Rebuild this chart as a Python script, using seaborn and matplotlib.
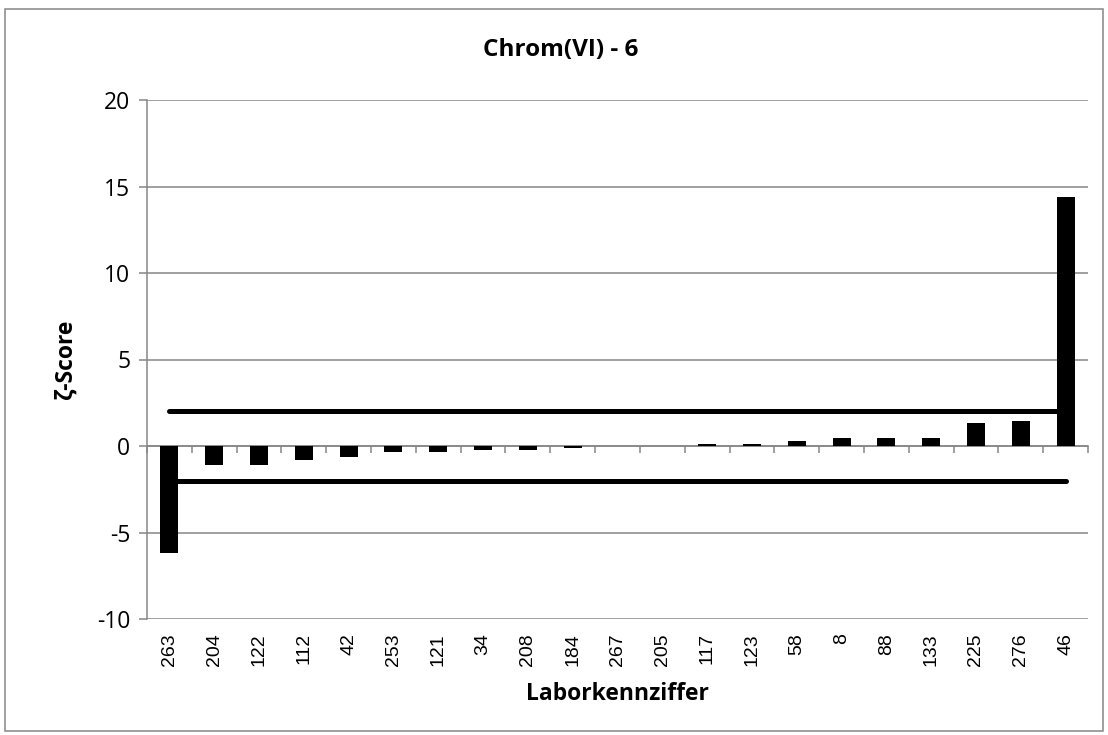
import matplotlib
matplotlib.use("Agg")
import matplotlib.pyplot as plt
import seaborn as sns
import pandas as pd
from matplotlib.patches import Rectangle
from matplotlib.ticker import FixedLocator, NullFormatter

labs = ["263", "204", "122", "112", "42", "253", "121", "34", "208", "184", "267",
        "205", "117", "123", "58", "8", "88", "133", "225", "276", "46"]
scores = [-6.2, -1.1, -1.07, -0.8, -0.62, -0.35, -0.34, -0.25, -0.25, -0.1, -0.02,
          0.0, 0.12, 0.13, 0.29, 0.45, 0.46, 0.48, 1.33, 1.46, 14.4]
limit_upper = 2
limit_lower = -2
yticks = [-10, -5, 0, 5, 10, 15, 20]

sns.set_theme(style="white")
plt.rcParams["font.family"] = ["Open Sans", "DejaVu Sans"]
plt.rcParams["axes.unicode_minus"] = False
plt.rcParams["text.color"] = "black"
plt.rcParams["axes.labelcolor"] = "black"
plt.rcParams["xtick.color"] = "black"
plt.rcParams["ytick.color"] = "black"

W, H = 1108, 735
fig = plt.figure(figsize=(W / 100, H / 100), dpi=100)
ax = fig.add_axes([147 / W, 1 - 619 / H, (1088 - 147) / W, (619 - 100) / H])

df = pd.DataFrame({"lab": labs, "score": scores})
n = len(labs)
grid_c = "#868686"

# limit lines (drawn below bars)
ax.plot([0, n - 1], [limit_upper, limit_upper], color="black", lw=3.6,
        solid_capstyle="round", zorder=2)
ax.plot([0, n - 1], [limit_lower, limit_lower], color="black", lw=3.6,
        solid_capstyle="round", zorder=2)

sns.barplot(data=df, x="lab", y="score", color="black", width=0.4,
            saturation=1, ax=ax, zorder=3, order=labs)
for p in ax.patches:
    p.set_edgecolor("none")

ax.set_xlim(-0.5, n - 0.5)
ax.set_ylim(-10, 20)
ax.set_yticks(yticks)
ax.yaxis.grid(True, color=grid_c, lw=1.1)
ax.set_axisbelow(True)
for s in ["top", "right", "bottom"]:
    ax.spines[s].set_visible(False)
ax.spines["left"].set_color(grid_c)
ax.spines["left"].set_linewidth(1.1)
ax.tick_params(axis="y", which="major", left=True, length=6, width=1.1,
               color=grid_c, labelsize=16.5, pad=6, labelcolor="black")
ax.tick_params(axis="x", which="major", bottom=False, length=0, pad=10,
               labelcolor="black")
ax.set_xticks(range(n))
ax.set_xticklabels(labs, rotation=90, fontsize=14,
                   fontfamily="Liberation Sans", va="top")

# x axis line at zero with boundary ticks
sec = ax.secondary_xaxis(1 / 3)
sec.spines["bottom"].set_color(grid_c)
sec.spines["bottom"].set_linewidth(1.1)
sec.xaxis.set_major_locator(FixedLocator([i - 0.5 for i in range(n + 1)]))
sec.xaxis.set_major_formatter(NullFormatter())
sec.tick_params(axis="x", length=5, width=1.1, color=grid_c, direction="out")

ax.set_xlabel("Laborkennziffer", fontsize=16.5, fontweight="bold", labelpad=12,
              color="black")
ax.set_ylabel("ζ-Score", fontsize=16.5, fontweight="bold", labelpad=14,
              color="black")
fig.text(561 / W, 1 - 50 / H, "Chrom(VI) - 6", fontsize=17.5, fontweight="bold",
         ha="center", va="center", color="black")

fig.patches.append(Rectangle((5 / W, 1 - 731 / H), (1103 - 5) / W, (731 - 9) / H,
                             transform=fig.transFigure, fill=False,
                             edgecolor=grid_c, lw=1.1))

fig.savefig("out.png", dpi=100)
